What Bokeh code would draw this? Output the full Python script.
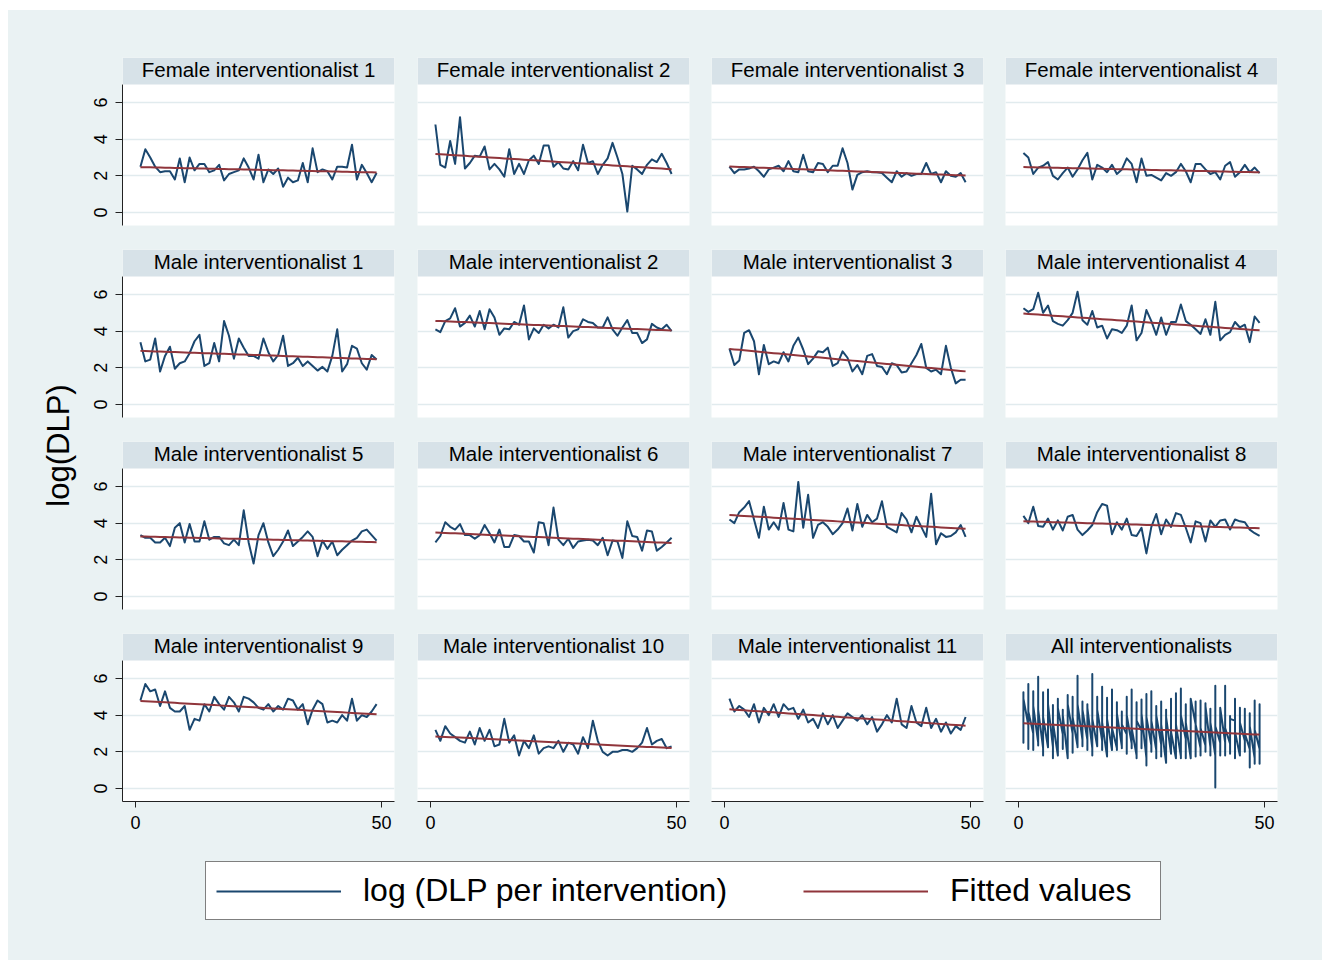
import numpy as np
from bokeh.plotting import figure
from bokeh.models import (Range1d, BoxAnnotation, Label, Legend, LegendItem,
                          FixedTicker, ColumnDataSource)
from bokeh.layouts import column, row
from bokeh.embed import file_html
from bokeh.resources import INLINE

# ---------------- data ----------------
titles = ["Female interventionalist 1", "Female interventionalist 2",
          "Female interventionalist 3", "Female interventionalist 4",
          "Male interventionalist 1", "Male interventionalist 2",
          "Male interventionalist 3", "Male interventionalist 4",
          "Male interventionalist 5", "Male interventionalist 6",
          "Male interventionalist 7", "Male interventionalist 8",
          "Male interventionalist 9", "Male interventionalist 10",
          "Male interventionalist 11", "All interventionalists"]

x_vals = list(range(1, 50))

F1 = [2.5, 3.45, 3.0, 2.5, 2.2, 2.25, 2.25, 1.8, 2.95, 1.65, 3.0, 2.3, 2.65, 2.65, 2.2, 2.3, 2.6, 1.75, 2.1, 2.2,
      2.3, 2.95, 2.45, 1.8, 3.15, 1.65, 2.35, 2.1, 2.4, 1.4, 1.9, 1.65, 1.75, 2.7, 1.65, 3.5, 2.2, 2.35, 2.25, 1.8,
      2.5, 2.5, 2.45, 3.7, 1.8, 2.6, 2.15, 1.65, 2.15]
F2 = [4.8, 2.6, 2.45, 3.9, 2.65, 5.2, 2.4, 2.7, 3.1, 3.05, 3.6, 2.35, 2.65, 2.35, 1.95, 3.45, 2.1, 2.65, 2.1, 2.85,
      3.1, 2.65, 3.65, 3.65, 2.5, 2.75, 2.4, 2.35, 2.8, 2.3, 3.7, 2.7, 2.8, 2.1, 2.6, 2.95, 3.8, 3.0, 2.1, 0.05,
      2.55, 2.35, 2.1, 2.6, 2.9, 2.75, 3.2, 2.7, 2.1]
F3 = [2.5, 2.15, 2.35, 2.35, 2.4, 2.5, 2.25, 1.95, 2.35, 2.45, 2.55, 2.25, 2.8, 2.25, 2.2, 3.15, 2.25, 2.2, 2.7, 2.65,
      2.2, 2.55, 2.55, 3.5, 2.7, 1.25, 2.05, 2.2, 2.25, 2.2, 2.2, 2.15, 1.9, 1.65, 2.25, 1.95, 2.15, 2.0, 2.1, 2.1,
      2.7, 2.1, 2.2, 1.65, 2.25, 2.0, 1.95, 2.15, 1.65]
F4 = [3.25, 3.0, 2.1, 2.45, 2.55, 2.75, 2.0, 1.8, 2.15, 2.45, 1.95, 2.35, 2.85, 3.25, 1.8, 2.6, 2.45, 2.2, 2.6, 2.1,
      2.35, 2.95, 2.65, 1.65, 2.95, 2.0, 2.05, 1.9, 1.75, 2.15, 2.0, 2.2, 2.65, 2.25, 1.65, 2.65, 2.65, 2.35, 2.1, 2.2,
      1.8, 2.55, 2.75, 1.95, 2.2, 2.6, 2.2, 2.45, 2.15]
M1 = [3.4, 2.35, 2.45, 3.6, 1.8, 2.65, 3.15, 1.95, 2.25, 2.35, 2.8, 3.45, 3.8, 2.1, 2.25, 3.35, 2.35, 4.55, 3.75, 2.5,
      3.6, 3.1, 2.65, 2.65, 2.5, 3.6, 2.85, 2.35, 2.7, 3.75, 2.1, 2.25, 2.55, 2.1, 2.35, 2.1, 1.85, 2.05, 1.8, 2.65,
      4.1, 1.8, 2.2, 3.2, 3.05, 2.25, 1.9, 2.7, 2.45]
M2 = [4.1, 3.95, 4.55, 4.7, 5.25, 4.25, 4.45, 4.85, 4.25, 5.1, 4.1, 5.2, 4.75, 3.8, 4.15, 4.1, 4.5, 4.35, 5.4, 3.55,
      4.15, 3.9, 4.35, 4.15, 4.35, 4.2, 5.3, 3.65, 4.0, 4.1, 4.65, 4.5, 4.45, 4.2, 4.2, 4.75, 4.1, 3.75, 4.2, 4.6,
      3.9, 3.9, 3.35, 3.55, 4.4, 4.2, 4.1, 4.35, 4.0]
M3 = [3.05, 2.15, 2.4, 3.9, 4.05, 3.45, 1.65, 3.25, 2.2, 2.35, 2.25, 2.85, 2.35, 3.2, 3.65, 3.0, 2.2, 2.5, 2.9, 2.85,
      3.1, 2.1, 2.25, 2.9, 2.55, 1.8, 2.15, 1.65, 2.65, 2.75, 2.1, 2.05, 1.65, 2.25, 2.15, 1.75, 1.8, 2.25, 2.7, 3.3,
      2.0, 1.8, 1.9, 1.65, 3.2, 2.0, 1.15, 1.35, 1.35]
M4 = [5.25, 5.05, 5.2, 6.1, 5.0, 5.4, 4.55, 4.4, 4.3, 4.6, 5.0, 6.15, 4.6, 4.35, 5.1, 4.2, 4.3, 3.6, 4.1, 4.05,
      3.9, 4.3, 5.4, 3.5, 3.9, 5.15, 4.55, 3.8, 4.75, 3.8, 4.5, 4.5, 5.45, 4.55, 4.35, 4.1, 3.85, 4.65, 3.8, 5.6,
      3.5, 3.8, 3.95, 4.5, 4.2, 4.35, 3.4, 4.8, 4.45]
M5 = [3.35, 3.2, 3.2, 2.95, 2.95, 3.2, 2.75, 3.75, 4.0, 2.95, 3.95, 3.0, 3.0, 4.1, 3.1, 3.25, 3.25, 2.9, 2.8, 3.1,
      2.8, 4.7, 2.95, 1.8, 3.35, 4.0, 2.95, 2.2, 2.55, 3.0, 3.6, 2.75, 3.0, 3.25, 3.55, 3.25, 2.2, 3.05, 2.6, 3.0,
      2.25, 2.55, 2.8, 3.05, 3.2, 3.55, 3.65, 3.35, 3.05]
M6 = [2.95, 3.3, 4.05, 3.8, 3.65, 3.95, 3.35, 3.35, 3.15, 3.35, 3.9, 3.45, 2.95, 3.65, 2.7, 2.7, 3.35, 3.3, 3.0, 3.0,
      2.4, 4.05, 4.0, 2.8, 4.85, 3.1, 2.8, 3.15, 2.65, 3.0, 3.05, 3.1, 3.05, 2.8, 3.2, 2.25, 3.05, 3.0, 2.1, 4.1,
      3.3, 3.25, 2.5, 3.6, 3.55, 2.5, 2.7, 2.95, 3.2]
M7 = [4.2, 4.0, 4.6, 4.85, 5.2, 4.2, 3.2, 4.9, 3.65, 4.05, 3.65, 5.1, 3.65, 3.55, 6.25, 3.75, 5.55, 3.2, 3.9, 4.05,
      3.8, 3.4, 3.65, 4.0, 4.8, 3.6, 5.05, 3.8, 4.45, 4.05, 4.25, 5.2, 3.8, 3.65, 3.5, 4.55, 4.2, 3.5, 4.35, 3.8,
      3.25, 5.6, 2.85, 3.45, 3.25, 3.3, 3.5, 3.9, 3.25]
M8 = [4.4, 4.0, 4.9, 3.85, 3.8, 4.25, 3.65, 4.15, 3.6, 4.35, 4.45, 3.65, 3.35, 3.6, 3.9, 4.6, 5.05, 4.95, 3.4, 4.05,
      3.65, 4.25, 3.35, 3.3, 3.75, 2.35, 3.8, 4.5, 3.4, 4.2, 3.8, 4.55, 4.45, 3.75, 2.95, 4.1, 4.0, 3.0, 4.15, 3.8,
      4.15, 4.2, 3.65, 4.2, 4.1, 4.05, 3.65, 3.45, 3.3]
M9 = [4.8, 5.7, 5.3, 5.4, 4.5, 5.3, 4.4, 4.2, 4.2, 4.5, 3.2, 3.8, 3.7, 4.6, 4.2, 5.0, 4.6, 4.3, 5.0, 4.7,
      4.2, 5.0, 4.9, 4.7, 4.4, 4.3, 4.6, 4.2, 4.5, 4.3, 4.9, 4.8, 4.3, 4.6, 3.5, 4.3, 4.8, 4.6, 3.6, 3.7,
      3.6, 4.0, 3.7, 4.9, 3.7, 4.0, 3.9, 4.2, 4.6]
M10 = [3.2, 2.6, 3.4, 3.0, 2.8, 2.6, 2.5, 3.1, 2.4, 3.3, 2.6, 3.2, 2.3, 2.4, 3.8, 2.5, 2.9, 1.8, 2.6, 2.2,
       2.9, 1.9, 2.2, 2.3, 2.2, 2.6, 2.0, 2.5, 2.4, 1.9, 2.8, 2.2, 3.7, 2.6, 2.0, 1.8, 2.0, 2.0, 2.1, 2.1,
       2.0, 2.2, 2.5, 3.3, 2.4, 2.6, 2.7, 2.2, 2.3]
M11 = [4.9, 4.2, 4.5, 4.3, 3.9, 4.6, 3.6, 4.4, 4.0, 4.6, 3.9, 4.6, 4.3, 4.4, 3.8, 4.3, 3.6, 3.8, 3.3, 4.1,
       3.5, 4.0, 3.3, 3.7, 4.1, 3.9, 3.7, 4.0, 3.5, 3.9, 3.1, 3.5, 4.0, 3.6, 4.9, 3.5, 3.3, 4.5, 3.6, 3.4,
       4.4, 3.3, 3.8, 3.1, 3.6, 3.0, 3.4, 3.2, 3.9]

series = [F1, F2, F3, F4, M1, M2, M3, M4, M5, M6, M7, M8, M9, M10, M11]

y_ticks = [0, 2, 4, 6]
x_ticks = [0, 50]
legend_labels = ["log (DLP per intervention)", "Fitted values"]

# ---------------- style ----------------
BG = "#eaf2f3"
STRIP = "#d7e2e8"
NAVY = "#1a476f"
MAROON = "#90353b"
GRID = "#e1ebee"
FONT = "Liberation Sans"

X0, X1 = -2.64, 52.64
Y0, Y1 = -0.71, 8.455
HDR = 6.98
HDR_MID = 7.8

LABEL_W = 76
col_w = [321, 295, 294, 328]
col_b = [(38, 11), (12, 11), (11, 11), (11, 45)]
row_h = [227, 192, 192, 219]
row_b = [(47, 12), (12, 12), (12, 12), (12, 39)]
LEG_H = 120
BGSTYLE = {"background-color": BG}


def style_axis(ax):
    ax.major_tick_in = 0
    ax.minor_tick_line_color = None
    ax.axis_line_color = "#222222"
    ax.major_tick_line_color = "#222222"
    ax.major_label_standoff = 8
    ax.major_label_text_font = FONT
    ax.major_label_text_font_size = "18px"
    ax.major_label_text_color = "black"


def make_panel(i):
    r, c = divmod(i, 4)
    if i < 15:
        xs = list(x_vals)
        ys = list(series[i])
    else:
        pairs = [(xv, s[k]) for k, xv in enumerate(x_vals) for s in series]
        xs = [a for a, b in pairs]
        ys = [b for a, b in pairs]
    coef = np.polyfit(xs, ys, 1)
    fit = list(np.polyval(coef, xs))
    src = ColumnDataSource(dict(x=xs, y=ys, fit=fit))

    p = figure(width=col_w[c], height=row_h[r],
               min_border_left=col_b[c][0], min_border_right=col_b[c][1],
               min_border_top=row_b[r][0], min_border_bottom=row_b[r][1],
               x_range=Range1d(X0, X1), y_range=Range1d(Y0, Y1),
               x_axis_location="below" if r == 3 else None,
               y_axis_location="left" if c == 0 else None,
               output_backend="svg", toolbar_location=None, title=None)
    p.background_fill_color = "white"
    p.border_fill_color = BG
    p.outline_line_color = None
    p.xgrid.visible = False
    p.ygrid.ticker = FixedTicker(ticks=y_ticks)
    p.ygrid.grid_line_color = GRID
    p.ygrid.grid_line_width = 1.5

    p.add_layout(BoxAnnotation(bottom=HDR, fill_color=STRIP, fill_alpha=1.0,
                               line_color=None))
    p.add_layout(Label(x=(X0 + X1) / 2, y=HDR_MID, text=titles[i],
                       text_align="center", text_baseline="middle",
                       text_font=FONT, text_font_size="20.5px",
                       text_color="black"))

    p.line("x", "y", source=src, line_color=NAVY, line_width=2, line_join="round")
    p.line("x", "fit", source=src, line_color=MAROON, line_width=2)

    if c == 0:
        ax = p.yaxis[0]
        ax.ticker = FixedTicker(ticks=y_ticks)
        ax.bounds = (Y0, HDR)
        ax.major_label_orientation = "vertical"
        ax.major_tick_out = 7
        style_axis(ax)
    if r == 3:
        ax = p.xaxis[0]
        ax.ticker = FixedTicker(ticks=x_ticks)
        ax.major_tick_out = 6
        style_axis(ax)
    return p


panels = [make_panel(i) for i in range(16)]
rows = [row(*panels[r * 4:(r + 1) * 4], styles=BGSTYLE) for r in range(4)]
grid = column(*rows, styles=BGSTYLE)

# y-axis title strip
lf = figure(width=LABEL_W, height=sum(row_h), x_range=Range1d(0, 1), y_range=Range1d(0, 1),
            min_border=0, x_axis_location=None, y_axis_location=None,
            output_backend="svg", toolbar_location=None, title=None)
lf.grid.visible = False
lf.background_fill_color = BG
lf.border_fill_color = BG
lf.outline_line_color = None
lf.add_layout(Label(x=50 / LABEL_W, y=1 - 435 / sum(row_h), text="log(DLP)", angle=np.pi / 2,
                    text_align="center", text_baseline="middle",
                    text_font=FONT, text_font_size="31px", text_color="black"))

# legend strip (legend proxies are hidden renderers)
lg = figure(width=LABEL_W + sum(col_w), height=LEG_H, x_range=Range1d(0, 50), y_range=Range1d(0, 6),
            min_border=0, x_axis_location=None, y_axis_location=None,
            output_backend="svg", toolbar_location=None, title=None)
lg.grid.visible = False
lg.background_fill_color = BG
lg.border_fill_color = BG
lg.outline_line_color = None
r1 = lg.line(x=x_vals[:2], y=F1[:2], line_color=NAVY, line_width=2, visible=False)
r2 = lg.line(x=x_vals[:2], y=F1[:2], line_color=MAROON, line_width=2, visible=False)
legend = Legend(items=[LegendItem(label=legend_labels[0], renderers=[r1]),
                       LegendItem(label=legend_labels[1], renderers=[r2])],
                orientation="horizontal", location=(197, 40),
                glyph_width=125, glyph_height=30, label_standoff=22, spacing=76,
                padding=10, margin=0, label_width=200,
                label_text_font=FONT, label_text_font_size="32px", label_text_color="black",
                border_line_color="black", border_line_width=1.5,
                background_fill_color="white", background_fill_alpha=1.0,
                inactive_fill_alpha=0.0, click_policy="none")
lg.add_layout(legend)

layout = column(row(lf, grid, styles=BGSTYLE), lg, styles=BGSTYLE)
layout.margin = (10, 0, 0, 8)

open("out.html", "w").write(file_html(layout, INLINE))
